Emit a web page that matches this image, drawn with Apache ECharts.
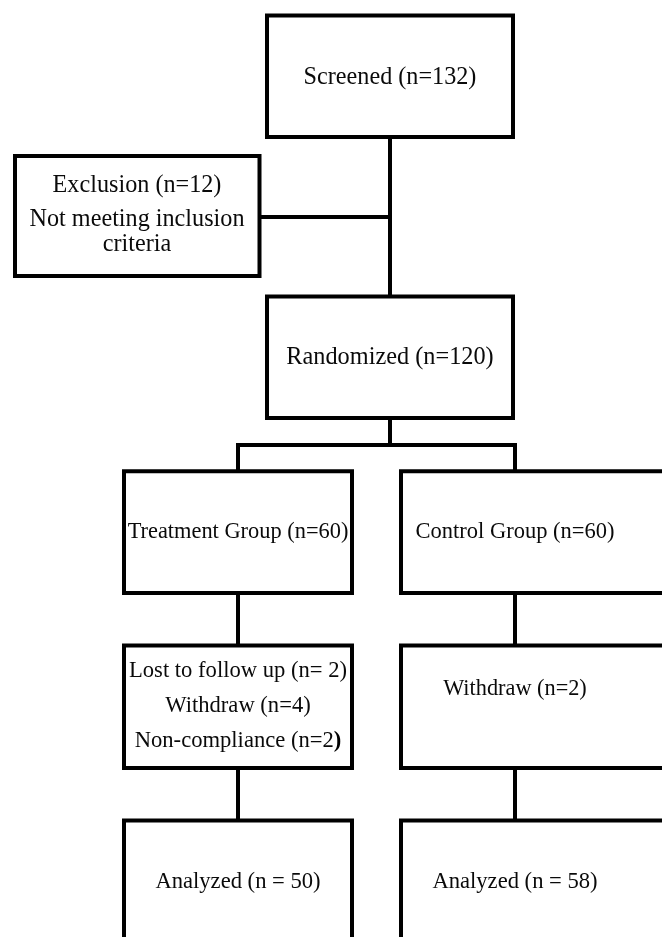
<!DOCTYPE html>
<html>
<head>
<meta charset="utf-8">
<style>
  html, body { margin: 0; padding: 0; background: #fff; }
  #chart { width: 662px; height: 937px; }
</style>
<script src="https://cdn.jsdelivr.net/npm/echarts@6/dist/echarts.min.js"></script>
</head>
<body>
<div id="chart"></div>
<script>
// ---- Data (flow stages and their counts) ----
const stageNames = ['Screened', 'Exclusion', 'Randomized', 'Treatment Group', 'Control Group',
                    'Treatment dropouts', 'Control dropouts', 'Treatment analyzed', 'Control analyzed'];
const stageText = [
  ['Screened (n=132)'],
  ['Exclusion (n=12)', 'Not meeting inclusion', 'criteria'],
  ['Randomized (n=120)'],
  ['Treatment Group (n=60)'],
  ['Control Group (n=60)'],
  ['Lost to follow up (n= 2)', 'Withdraw (n=4)', 'Non-compliance (n=2{b|)}'],
  ['Withdraw (n=2)'],
  ['Analyzed (n = 50)'],
  ['Analyzed (n = 58)']
];
// flow links between stages (from, to)
const links = [[0, 2], [0, 1], [2, 3], [2, 4], [3, 5], [4, 6], [5, 7], [6, 8]];

// ---- Layout (positions and styles, kept separate from data) ----
const boxRect = [
  [267, 15.5, 513, 137],
  [15, 156, 259.5, 276],
  [267, 296.5, 513, 418],
  [124, 471.3, 352, 593],
  [401, 471.3, 680, 593],
  [124, 645.5, 352, 768],
  [401, 645.5, 680, 768],
  [124, 820.5, 352, 960],
  [401, 820.5, 680, 960]
];
const textX = [390, 137, 390, 238, 515, 238, 515, 238, 515];
const textY = [
  [77.5],
  [185.5, 219.5, 244.5],
  [357.5],
  [531.7],
  [531.7],
  [671.4, 706.2, 741.4],
  [689],
  [881.7],
  [881.7]
];
const fontSizes = [24.2, 24.2, 24.3, 22.4, 22.5, 22.6, 22.3, 22.6, 22.6];
const linkPath = [
  [[390, 137], [390, 296.5]],
  [[390, 217], [259.5, 217]],
  [[390, 418], [390, 445], [238, 445], [238, 471.3]],
  [[390, 445], [515, 445], [515, 471.3]],
  [[238, 593], [238, 645.5]],
  [[515, 593], [515, 645.5]],
  [[238, 768], [238, 820.5]],
  [[515, 768], [515, 820.5]]
];

const FONT = '"Liberation Serif", "Times New Roman", serif';
const chart = echarts.init(document.getElementById('chart'), null, { renderer: 'canvas' });

chart.setOption({
  animation: false,
  backgroundColor: '#ffffff',
  grid: { left: 0, right: 0, top: 0, bottom: 0, containLabel: false },
  xAxis: { type: 'value', min: 0, max: 662, show: false },
  yAxis: { type: 'value', min: 0, max: 937, inverse: true, show: false },
  series: [
    {
      type: 'custom',
      name: 'links',
      clip: false,
      z: 1,
      data: links.map((l, i) => [i, l[0], l[1]]),
      renderItem: function (params, api) {
        const pts = linkPath[params.dataIndex].map(p => api.coord(p));
        return {
          type: 'polyline',
          shape: { points: pts },
          style: { stroke: '#000', lineWidth: 4, fill: null, lineJoin: 'miter' }
        };
      }
    },
    {
      type: 'custom',
      name: 'stages',
      clip: false,
      z: 2,
      data: stageNames.map((n, i) => [i, n]),
      renderItem: function (params, api) {
        const i = params.dataIndex;
        const r = boxRect[i];
        const p0 = api.coord([r[0], r[1]]);
        const p1 = api.coord([r[2], r[3]]);
        const fs = fontSizes[i];
        const children = [{
          type: 'rect',
          shape: { x: p0[0], y: p0[1], width: p1[0] - p0[0], height: p1[1] - p0[1] },
          style: { fill: '#fff', stroke: '#000', lineWidth: 4 }
        }];
        stageText[i].forEach((t, k) => {
          const c = api.coord([textX[i], textY[i][k]]);
          children.push({
            type: 'text',
            x: c[0], y: c[1],
            style: {
              text: t,
              fontFamily: FONT,
              fontSize: fs,
              fill: '#0a0a0a',
              align: 'center',
              verticalAlign: 'middle',
              rich: { b: { fontFamily: FONT, fontSize: fs, fontWeight: 'bold', fill: '#000' } }
            }
          });
        });
        return { type: 'group', children: children };
      }
    }
  ]
});
</script>
</body>
</html>
